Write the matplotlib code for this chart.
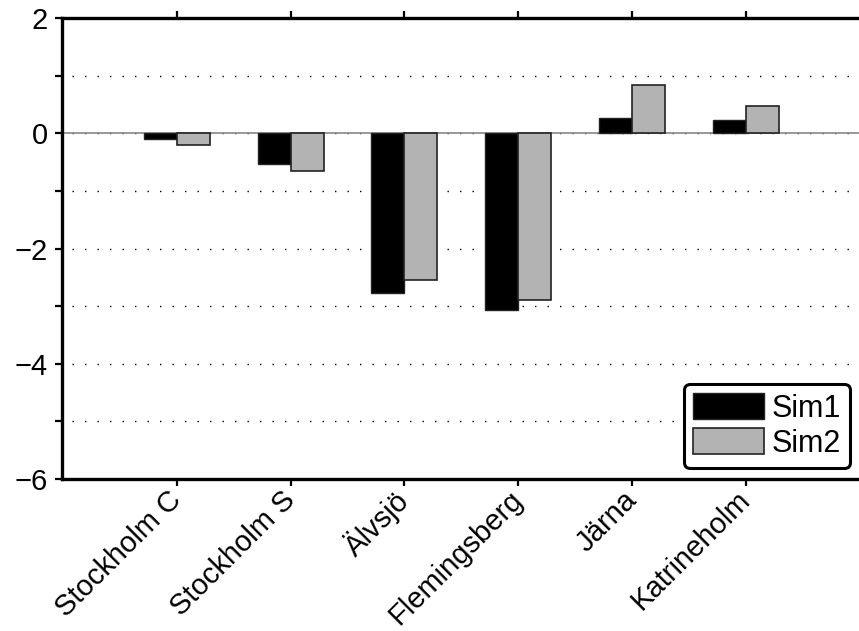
import matplotlib
matplotlib.use("Agg")
import matplotlib.pyplot as plt
import numpy as np

categories = ["Stockholm C", "Stockholm S", "Älvsjö", "Flemingsberg", "Järna", "Katrineholm"]
sim1 = [-0.10, -0.54, -2.78, -3.07, 0.27, 0.23]
sim2 = [-0.20, -0.66, -2.54, -2.90, 0.83, 0.47]
series_names = ["Sim1", "Sim2"]

plt.rcParams['font.family'] = ['Liberation Sans', 'DejaVu Sans']

fig = plt.figure(figsize=(8.59, 6.31), dpi=100)
ax = fig.add_axes([62/859, 1 - 479/631, (859 - 62)/859 + 0.01, (479 - 18)/631])

x = np.arange(len(categories))
w = 0.29
ax.bar(x - w/2, sim1, w, color='black', edgecolor='#222222', linewidth=1, label=series_names[0], zorder=3)
ax.bar(x + w/2, sim2, w, color='#b3b3b3', edgecolor='#222222', linewidth=1.2, label=series_names[1], zorder=3)

ax.set_xlim(-1.01, 6.07)
ax.set_ylim(-6, 2)

for yv in range(-5, 2):
    if yv == 0:
        ax.axhline(0, color='#888888', linewidth=1.2, zorder=2)
    ax.plot([-0.92, 6.1], [yv, yv], linestyle=(0, (1, 8)), color='black', linewidth=1.0, zorder=1)

ax.set_yticks([2, 0, -2, -4, -6])
ax.set_yticks([1, -1, -3, -5], minor=True)
ax.set_xticks(x)
ax.set_xticklabels(categories, rotation=45, ha='right', va='center', rotation_mode='anchor', fontsize=21)
ax.tick_params(axis='y', which='both', direction='out', length=5, width=1.6, labelsize=21, pad=5)
ax.tick_params(axis='x', which='both', direction='out', length=5, width=1.6, top=True, pad=7)

for s in ['left', 'top', 'bottom']:
    ax.spines[s].set_linewidth(2.4)
ax.spines['right'].set_visible(False)

leg = ax.legend(loc='lower right', bbox_to_anchor=(0.978, 0.024), fontsize=22, frameon=True, fancybox=True,
                handlelength=2.3, handleheight=0.95, borderpad=0.3, labelspacing=0.15, handletextpad=0.25,
                borderaxespad=0.0)
leg.get_frame().set_edgecolor('black')
leg.get_frame().set_linewidth(2.2)
leg.get_frame().set_alpha(1)

fig.savefig("out.png", dpi=100)
